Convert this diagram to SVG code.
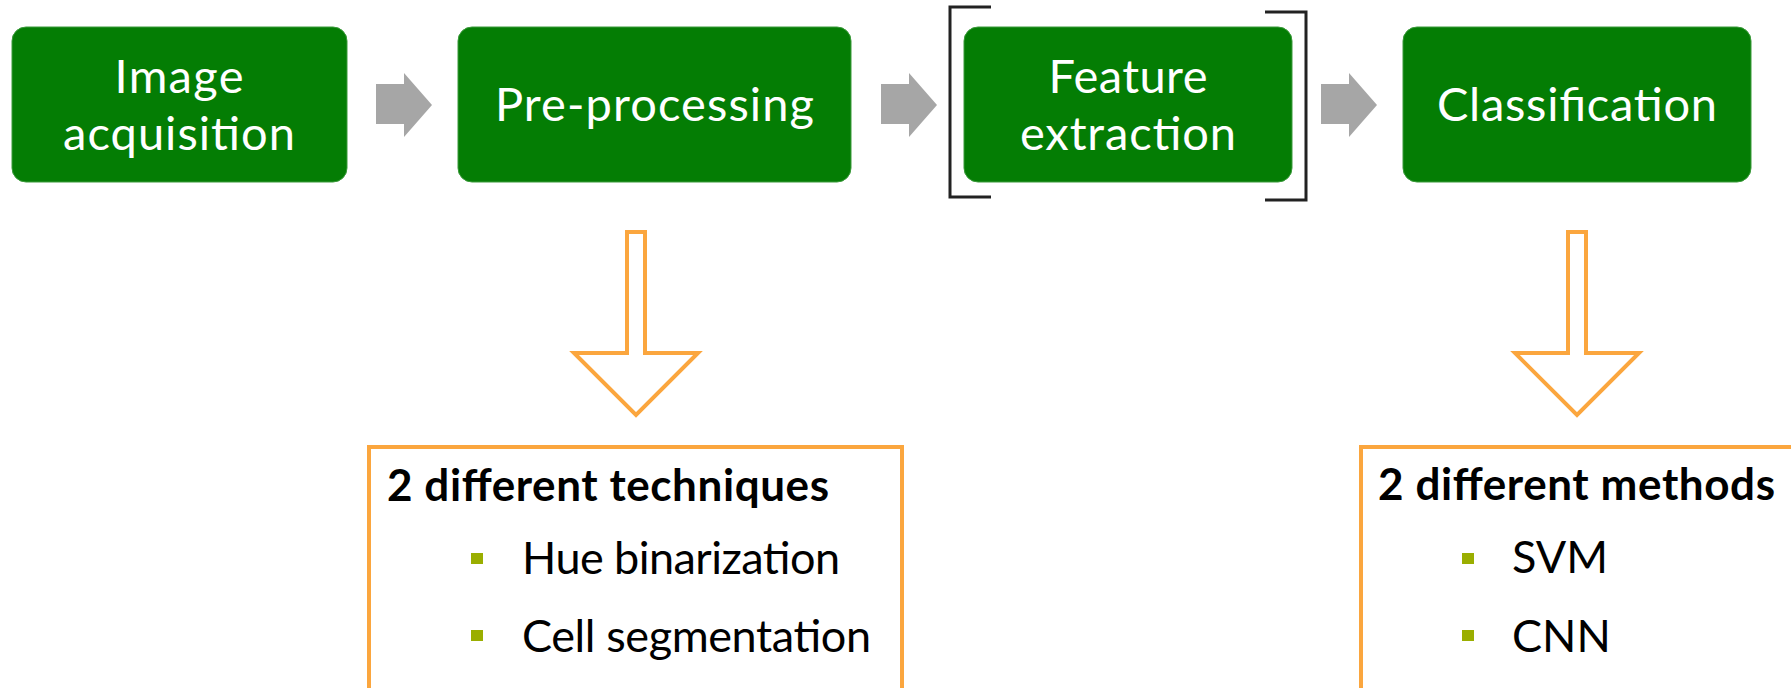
<svg xmlns="http://www.w3.org/2000/svg" width="1791" height="688" viewBox="0 0 1791 688">
<style>
.box{fill:#047d04;stroke:#3a9a3a;stroke-width:1}
.lbl{font-family:Lato,"Open Sans",sans-serif;font-size:47px;fill:#ffffff;text-anchor:middle}
.garrow{fill:#a6a6a6}
.darrow{fill:#ffffff;stroke:#fba63e;stroke-width:4;stroke-linejoin:miter}
.obox{fill:#ffffff;stroke:#fba63e;stroke-width:4}
.title{font-family:Lato,"Open Sans",sans-serif;font-size:44px;font-weight:bold;fill:#000000}
.item{font-family:Lato,"Open Sans",sans-serif;font-size:45px;fill:#000000}
.bul{fill:#9aae00}
.brk{fill:none;stroke:#222222;stroke-width:3}
</style>
<defs>
<path id="ga" d="M0,11 H28 V0 L56,32 L28,64 V51 H0 Z"/>
<path id="da" d="M-9,0 H9 V121 H62 L0,183 L-62,121 H-9 Z"/>
</defs>
<rect width="1791" height="688" fill="#ffffff"/>
<g id="node-image-acquisition">
<rect class="box" x="12" y="27" width="335" height="155" rx="14"/>
<text class="lbl" x="179" y="93" textLength="129">Image</text>
<text class="lbl" x="179" y="150" textLength="232">acquisition</text>
</g>
<g id="node-pre-processing">
<rect class="box" x="458" y="27" width="393" height="155" rx="14"/>
<text class="lbl" x="654.5" y="121" textLength="319">Pre-processing</text>
</g>
<g id="node-feature-extraction">
<rect class="box" x="964" y="27" width="328" height="155" rx="14"/>
<text class="lbl" x="1128" y="93" textLength="159">Feature</text>
<text class="lbl" x="1128" y="150" textLength="216">extraction</text>
<path class="brk" d="M991,7 H950 V197 H991"/>
<path class="brk" d="M1265,12 H1306 V200 H1265"/>
</g>
<g id="node-classification">
<rect class="box" x="1403" y="27" width="348" height="155" rx="14"/>
<text class="lbl" x="1577" y="121" textLength="280">Classification</text>
</g>
<g id="node-techniques">
<rect class="obox" x="369" y="447" width="533" height="260"/>
<text class="title" x="387" y="501" textLength="442">2 different techniques</text>
<rect class="bul" x="471" y="553" width="12" height="11"/>
<text class="item" x="522" y="574" textLength="318">Hue binarization</text>
<rect class="bul" x="471" y="630" width="12" height="11"/>
<text class="item" x="522" y="652" textLength="349">Cell segmentation</text>
</g>
<g id="node-methods">
<rect class="obox" x="1361" y="447" width="500" height="260"/>
<text class="title" x="1378" y="500" textLength="397">2 different methods</text>
<rect class="bul" x="1462" y="553" width="12" height="11"/>
<text class="item" x="1512" y="573">SVM</text>
<rect class="bul" x="1462" y="630" width="12" height="11"/>
<text class="item" x="1512" y="652">CNN</text>
</g>
<g id="connectors">
<use href="#ga" class="garrow" x="376" y="73"/>
<use href="#ga" class="garrow" x="881" y="73"/>
<use href="#ga" class="garrow" x="1321" y="73"/>
<use href="#da" class="darrow" x="636" y="232"/>
<use href="#da" class="darrow" x="1577" y="232"/>
</g>
</svg>
